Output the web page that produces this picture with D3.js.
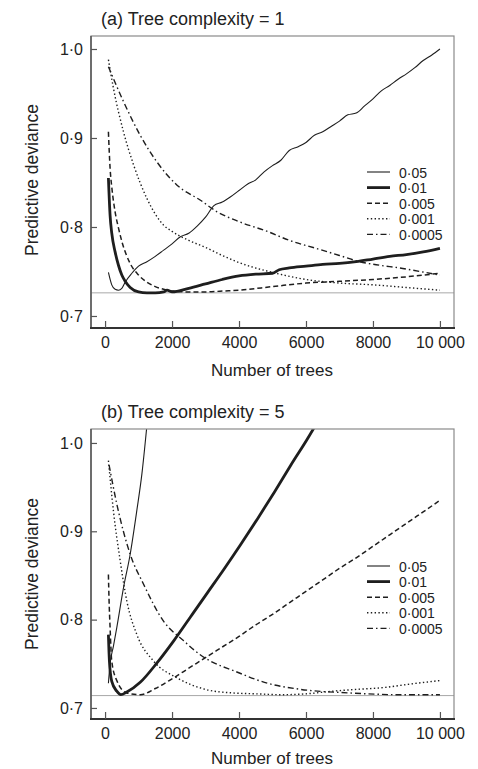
<!DOCTYPE html>
<html>
<head>
<meta charset="utf-8">
<script src="https://cdn.jsdelivr.net/npm/d3@7/dist/d3.min.js"></script>
<style>
  html, body { margin: 0; padding: 0; background: #fff; }
  svg text { font-family: "Liberation Sans", Arial, sans-serif; fill: #222; }
</style>
</head>
<body>
<svg id="chart" width="478" height="769"></svg>
<script>
// Learning rates shown in each panel (legend order)
const learningRates = ["0·05", "0·01", "0·005", "0·001", "0·0005"];
const xTickValues = [0, 2000, 4000, 6000, 8000, 10000];
const xTickLabels = ["0", "2000", "4000", "6000", "8000", "10 000"];
const yTickValues = [0.7, 0.8, 0.9, 1.0];

// ---- (a) Tree complexity = 1 ----
const a_trees_005 = [100, 200, 300, 400, 500, 600, 800, 1000, 1250, 1500, 1750, 2000, 2250, 2500, 2750, 3000, 3250, 3500, 3750, 4000, 4250, 4500, 4750, 5000, 5250, 5500, 5750, 6000, 6250, 6500, 6750, 7000, 7250, 7500, 7750, 8000, 8250, 8500, 8750, 9000, 9250, 9500, 9750, 10000];
const a_dev_005   = [0.749, 0.735, 0.730, 0.729, 0.731, 0.738, 0.748, 0.756, 0.761, 0.767, 0.774, 0.781, 0.789, 0.793, 0.801, 0.811, 0.824, 0.828, 0.834, 0.841, 0.848, 0.853, 0.862, 0.869, 0.875, 0.886, 0.890, 0.895, 0.903, 0.907, 0.913, 0.919, 0.926, 0.928, 0.936, 0.944, 0.953, 0.959, 0.966, 0.972, 0.979, 0.987, 0.993, 1.000];
const a_trees_001 = [100, 150, 200, 300, 400, 500, 600, 750, 1000, 1250, 1500, 1750, 1850, 2000, 2500, 3000, 3500, 4000, 4500, 5000, 5200, 5500, 6000, 6500, 7000, 7500, 8000, 8500, 9000, 9500, 10000];
const a_dev_001   = [0.855, 0.813, 0.793, 0.772, 0.757, 0.746, 0.739, 0.732, 0.727, 0.726, 0.726, 0.727, 0.729, 0.727, 0.731, 0.736, 0.741, 0.745, 0.747, 0.748, 0.752, 0.754, 0.756, 0.758, 0.759, 0.761, 0.764, 0.767, 0.769, 0.772, 0.776];
const a_trees_0005 = [100, 150, 200, 300, 400, 500, 750, 1000, 1250, 1500, 1750, 2000, 2500, 3000, 3500, 4000, 5000, 6000, 7000, 8000, 9000, 10000];
const a_dev_0005   = [0.907, 0.866, 0.845, 0.817, 0.799, 0.784, 0.759, 0.746, 0.738, 0.733, 0.730, 0.728, 0.727, 0.727, 0.728, 0.729, 0.733, 0.737, 0.739, 0.741, 0.744, 0.748];
const a_trees_0001 = [100, 250, 550, 850, 1250, 1750, 2000, 2500, 3000, 3500, 4000, 5000, 6000, 7000, 8000, 9000, 10000];
const a_dev_0001   = [0.988, 0.956, 0.907, 0.870, 0.832, 0.802, 0.795, 0.785, 0.777, 0.768, 0.760, 0.749, 0.741, 0.737, 0.735, 0.732, 0.729];
const a_trees_00005 = [100, 550, 1050, 1550, 2150, 2850, 3350, 4000, 4850, 5500, 6300, 7000, 7600, 8200, 8800, 9400, 10000];
const a_dev_00005   = [0.980, 0.941, 0.903, 0.873, 0.847, 0.830, 0.817, 0.806, 0.795, 0.785, 0.776, 0.768, 0.761, 0.757, 0.754, 0.750, 0.746];
const a_minimum = 0.726;

// ---- (b) Tree complexity = 5 ----
const b_trees_005 = [100, 150, 250, 350, 550, 750, 950, 1100, 1250];
const b_dev_005   = [0.728, 0.750, 0.770, 0.791, 0.836, 0.874, 0.924, 0.965, 1.020];
const b_trees_001 = [100, 130, 200, 350, 470, 650, 1050, 1550, 2050, 2550, 3050, 3550, 4050, 4550, 5050, 5550, 6050, 6300];
const b_dev_001   = [0.783, 0.753, 0.730, 0.719, 0.715, 0.718, 0.729, 0.751, 0.776, 0.803, 0.830, 0.857, 0.885, 0.914, 0.944, 0.975, 1.005, 1.021];
const b_trees_0005 = [100, 120, 150, 200, 350, 650, 1050, 1500, 2000, 2500, 3000, 3500, 4000, 4500, 5000, 5500, 6000, 6500, 7000, 7500, 8000, 8500, 9000, 9500, 10000];
const b_dev_0005   = [0.851, 0.821, 0.791, 0.753, 0.731, 0.717, 0.715, 0.722, 0.733, 0.745, 0.757, 0.769, 0.781, 0.794, 0.806, 0.819, 0.832, 0.845, 0.858, 0.870, 0.883, 0.896, 0.909, 0.922, 0.935];
const b_trees_0001 = [100, 250, 450, 650, 950, 1450, 2150, 3000, 3800, 4500, 5300, 6000, 6800, 7500, 8300, 9100, 10000];
const b_dev_0001   = [0.980, 0.923, 0.867, 0.821, 0.783, 0.753, 0.734, 0.721, 0.717, 0.716, 0.715, 0.716, 0.719, 0.721, 0.723, 0.727, 0.731];
const b_trees_00005 = [120, 350, 750, 1150, 1750, 2350, 2850, 3150, 3850, 4850, 5850, 7300, 8800, 10000];
const b_dev_00005   = [0.975, 0.931, 0.874, 0.840, 0.798, 0.776, 0.760, 0.753, 0.742, 0.728, 0.721, 0.717, 0.715, 0.715];
const b_minimum = 0.714;

// Line style per learning rate
const styles = [
  { width: 1.1, dash: null },
  { width: 2.8, dash: null },
  { width: 1.5, dash: "5,3" },
  { width: 1.4, dash: "1.4,2.4" },
  { width: 1.4, dash: "6,3,1.5,3" }
];

const svg = d3.select("#chart");

function zip(xs, ys) { return xs.map((x, i) => [x, ys[i]]); }

function drawPanel(cfg) {
  const x = d3.scaleLinear().domain([-420, 10420]).range([cfg.left, cfg.right]);
  const y = d3.scaleLinear().domain(cfg.yDomain).range([cfg.bottom, cfg.top]);
  const g = svg.append("g");

  const clipId = "clip-" + cfg.id;
  g.append("clipPath").attr("id", clipId)
    .append("rect")
    .attr("x", cfg.left).attr("y", cfg.top)
    .attr("width", cfg.right - cfg.left).attr("height", cfg.bottom - cfg.top);

  // Panel title
  g.append("text")
    .attr("x", 101).attr("y", cfg.top - 11)
    .attr("font-size", 18)
    .text(cfg.title);

  // Minimum deviance reference line
  g.append("line")
    .attr("x1", cfg.left).attr("x2", cfg.right)
    .attr("y1", y(cfg.minimum)).attr("y2", y(cfg.minimum))
    .attr("stroke", "#a8a8a8").attr("stroke-width", 1);

  // Curves
  const line = d3.line().x(d => x(d[0])).y(d => y(d[1])).curve(d3.curveMonotoneX);
  const curves = g.append("g").attr("clip-path", `url(#${clipId})`);
  cfg.series.forEach((s, i) => {
    curves.append("path")
      .datum(zip(s[0], s[1]))
      .attr("d", line)
      .attr("fill", "none")
      .attr("stroke", "#1e1e1e")
      .attr("stroke-width", styles[i].width)
      .attr("stroke-dasharray", styles[i].dash)
      .attr("stroke-linejoin", "round");
  });

  // Frame
  g.append("rect")
    .attr("x", cfg.left).attr("y", cfg.top)
    .attr("width", cfg.right - cfg.left).attr("height", cfg.bottom - cfg.top)
    .attr("fill", "none").attr("stroke", "#8a8a8a").attr("stroke-width", 1.2);
  g.append("line")
    .attr("x1", cfg.left).attr("x2", cfg.left)
    .attr("y1", cfg.top).attr("y2", cfg.bottom)
    .attr("stroke", "#555").attr("stroke-width", 1.5);
  g.append("line")
    .attr("x1", cfg.left - 1).attr("x2", cfg.right + 1)
    .attr("y1", cfg.bottom).attr("y2", cfg.bottom)
    .attr("stroke", "#333").attr("stroke-width", 2.2);

  // Axes with inward ticks
  const yAxis = d3.axisLeft(y)
    .tickValues(yTickValues)
    .tickSize(-6)
    .tickPadding(8)
    .tickFormat(d => d3.format(".1f")(d).replace(".", "·"));
  const ya = g.append("g").attr("transform", `translate(${cfg.left},0)`).call(yAxis);
  ya.select(".domain").remove();
  ya.selectAll("line").attr("stroke", "#555").attr("stroke-width", 1.2);
  ya.selectAll("text").attr("font-size", 16).attr("fill", "#222")
    .style("font-family", "'Liberation Sans', Arial, sans-serif");

  const xAxis = d3.axisBottom(x)
    .tickValues(xTickValues)
    .tickSize(-7)
    .tickPadding(9)
    .tickFormat((d, i) => xTickLabels[i]);
  const xa = g.append("g").attr("transform", `translate(0,${cfg.bottom})`).call(xAxis);
  xa.select(".domain").remove();
  xa.selectAll("line").attr("stroke", "#555").attr("stroke-width", 1.2);
  xa.selectAll("text").attr("font-size", 16).attr("fill", "#222")
    .style("font-family", "'Liberation Sans', Arial, sans-serif");

  // Axis titles
  g.append("text")
    .attr("x", 272).attr("y", cfg.bottom + cfg.xLabelOffset)
    .attr("text-anchor", "middle").attr("font-size", 17)
    .text("Number of trees");
  g.append("text")
    .attr("transform", `translate(38,${cfg.yLabelCenter}) rotate(-90)`)
    .attr("text-anchor", "middle").attr("font-size", 17.5)
    .text("Predictive deviance");

  // Legend
  const lg = g.append("g");
  learningRates.forEach((lab, i) => {
    const ly = cfg.legendTop + i * cfg.legendStep;
    lg.append("line")
      .attr("x1", 367).attr("x2", 390)
      .attr("y1", ly).attr("y2", ly)
      .attr("stroke", "#1e1e1e")
      .attr("stroke-width", styles[i].width)
      .attr("stroke-dasharray", styles[i].dash);
    lg.append("text")
      .attr("x", 399).attr("y", ly + 5.5)
      .attr("font-size", 14)
      .text(lab);
  });
}

drawPanel({
  id: "a",
  title: "(a) Tree complexity = 1",
  left: 91, right: 454, top: 36, bottom: 328,
  yDomain: [0.6865, 1.0146],
  minimum: a_minimum,
  yLabelCenter: 180,
  xLabelOffset: 48,
  legendTop: 172, legendStep: 15.6,
  series: [
    [a_trees_005, a_dev_005],
    [a_trees_001, a_dev_001],
    [a_trees_0005, a_dev_0005],
    [a_trees_0001, a_dev_0001],
    [a_trees_00005, a_dev_00005]
  ]
});

drawPanel({
  id: "b",
  title: "(b) Tree complexity = 5",
  left: 91, right: 454, top: 429, bottom: 719,
  yDomain: [0.6875, 1.0158],
  minimum: b_minimum,
  yLabelCenter: 574,
  xLabelOffset: 45,
  legendTop: 566, legendStep: 15.6,
  series: [
    [b_trees_005, b_dev_005],
    [b_trees_001, b_dev_001],
    [b_trees_0005, b_dev_0005],
    [b_trees_0001, b_dev_0001],
    [b_trees_00005, b_dev_00005]
  ]
});
</script>
</body>
</html>
